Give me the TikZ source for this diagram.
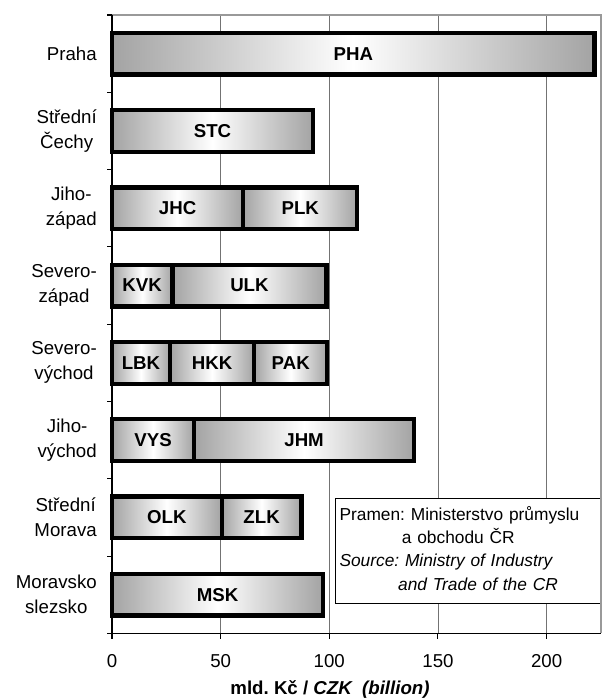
\documentclass[tikz,border=0pt]{standalone}
\usepackage{fontspec}
\setmainfont{Liberation Sans}
\usepackage{tikz}
\usetikzlibrary{calc}
\usetikzlibrary{positioning}
\tikzstyle{barseg}=[%
  draw=black,
  line width=3.2pt,
  left color=black!36,
  right color=black!36,
  middle color=white
]
\tikzstyle{seglabel}=[font=\bfseries, inner sep=0pt]
\tikzstyle{catlabel}=[anchor=east, align=center, inner sep=0pt]
\tikzstyle{gridline}=[draw=black!55, line width=0.6pt]
\tikzstyle{plotframe}=[draw=black!40, line width=1.4pt]
\tikzstyle{axisline}=[draw=black, line width=0.8pt]

\begin{document}
\frenchspacing
\fontsize{14}{18.75}\selectfont
\begin{tikzpicture}[x=0.75pt, y=-0.75pt]
  \useasboundingbox (0,0) rectangle (602,698);
  \begin{scope}[shift={(112,15)}, x=1.6297pt, y=-57.975pt]
    % grid
    \foreach \v in {50,100,150,200} {%
      \draw[gridline] (\v,0) -- (\v,8);
    }
    % bars
    \foreach \r/\a/\b/\lab in {0/0/222.1/PHA, 1/0/92.5/STC,
        2/0/60.4/JHC, 2/60.4/112.9/PLK, 3/0/27.8/KVK, 3/27.8/98.7/ULK,
        4/0/26.7/LBK, 4/26.7/65.4/HKK, 4/65.4/99.1/PAK,
        5/0/37.8/VYS, 5/37.8/139/JHM, 6/0/50.5/OLK, 6/50.5/87.2/ZLK,
        7/0/97.1/MSK} {%
      \draw[barseg] (\a,\r+0.23) rectangle (\b,\r+0.77);
      \node[seglabel] (\lab) at ({(\a+\b)/2},\r+0.5) {\lab};
    }
    % regions
    \foreach \r/\t in {0/Praha, 1/{Střední\\Čechy}, 2/{Jiho-\\západ},
        3/{Severo-\\západ}, 4/{Severo-\\východ}, 5/{Jiho-\\východ},
        6/{Střední\\Morava}, 7/{Moravsko\\slezsko}} {%
      \node[catlabel] (cat\r) at ([xshift=-11.25pt]0,\r+0.5) {\t};
    }
  \end{scope}
  \node (zdroj) [draw, fill=white, line width=0.8pt, anchor=north west,
    minimum width=198.75pt, minimum height=78.75pt, text width=192.75pt,
    inner xsep=3pt, align=left, font=\fontsize{13}{17.5}\selectfont]
    at (335,498) {Pramen: Ministerstvo průmyslu\\
      \hspace*{46.8pt}a obchodu ČR\\
      \textit{Source: Ministry of Industry}\\
      \hspace*{44pt}\textit{and Trade of the CR}\rule[-4.5pt]{0pt}{4.5pt}};
  \begin{scope}[shift={(112,15)}, x=1.6297pt, y=-57.975pt]
    \draw[plotframe] (0,0) -- (225,0) -- (225,8);
    \draw[axisline] (0,0) -- (0,8) -- (225,8);
    \foreach \r in {0,...,8} {%
      \draw[axisline] (0,\r) -- ++(-4pt,0);
    }
    \foreach \v in {0,50,100,150,200} {%
      \draw[axisline] (\v,8) -- ++(0,-4.5pt);
      \node (tick\v) at ([yshift=-20.8pt]\v,8) {\v};
    }
  \end{scope}
  \node (osa) at (330,689) {\bfseries mld. Kč / \itshape CZK\ \ (billion)};
\end{tikzpicture}
\end{document}
